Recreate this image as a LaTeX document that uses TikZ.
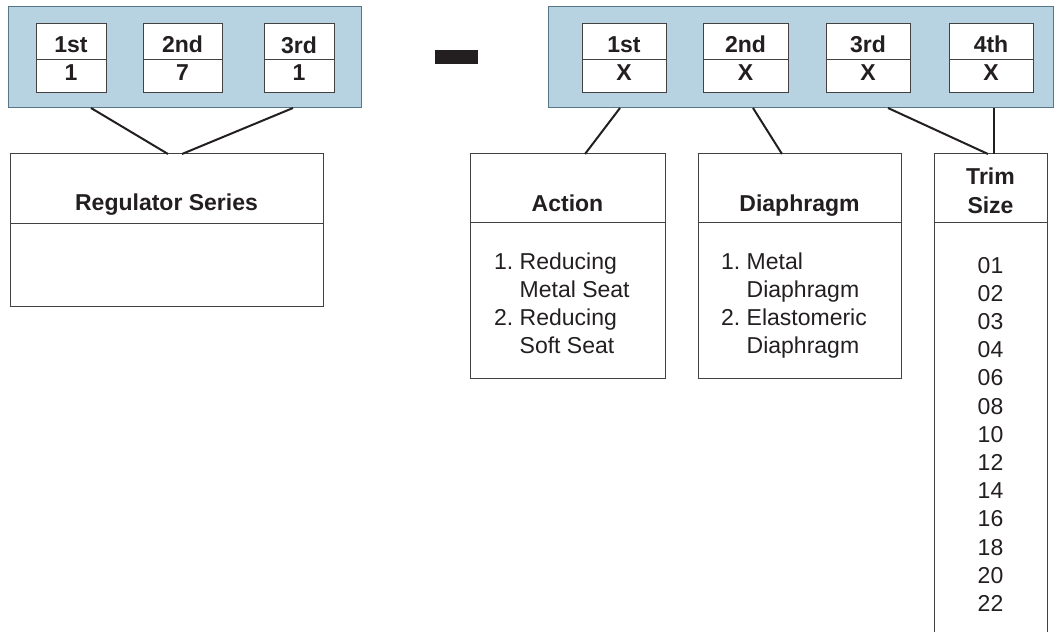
\documentclass[tikz,border=0pt]{standalone}
\usepackage{fontspec}
\setmainfont{Liberation Sans}
\definecolor{panelfill}{HTML}{B7D2E0}
\definecolor{panelline}{HTML}{557788}
\definecolor{ink}{HTML}{231F20}
\begin{document}
\begin{tikzpicture}[x=1pt,y=-1pt,
  every node/.style={inner sep=0pt, outer sep=0pt, text=ink, font=\fontsize{23}{28.3}\selectfont},
  panel/.style={draw=panelline, fill=panelfill, line width=1pt},
  cell/.style={draw=ink!85, fill=white, line width=0.9pt},
  box/.style={draw=ink!85, line width=1pt},
  conn/.style={draw=ink, line width=2pt},
  lbl/.style={anchor=base, font=\bfseries\fontsize{23}{28.3}\selectfont},
  lst/.style={anchor=base west}]
\useasboundingbox (0,0) rectangle (1056,631);
\clip (0,0) rectangle (1056,631);

% ---- left panel ----
\node[panel, minimum width=353, minimum height=101] (lp) at (184.5,57.5) {};
\node[cell, minimum width=70, minimum height=36] (l1t) at (71,41) {};
\node[cell, minimum width=70, minimum height=33] (l1b) at (71,75.5) {};
\node[cell, minimum width=79, minimum height=36] (l2t) at (182.5,41) {};
\node[cell, minimum width=79, minimum height=33] (l2b) at (182.5,75.5) {};
\node[cell, minimum width=70, minimum height=36] (l3t) at (299,41) {};
\node[cell, minimum width=70, minimum height=33] (l3b) at (299,75.5) {};
\node[lbl] (l1tt) at (71,53) {1st};
\node[lbl] (l1bt) at (71,81) {1};
\node[lbl] (l2tt) at (182.5,53) {2nd};
\node[lbl] (l2bt) at (182.5,81) {7};
\node[lbl] (l3tt) at (299,54) {3rd};
\node[lbl] (l3bt) at (299,81) {1};

% ---- minus ----
\node[fill=ink, minimum width=43, minimum height=14] (minus) at (456.5,57) {};

% ---- right panel ----
\node[panel, minimum width=505, minimum height=101] (rp) at (800.5,57.5) {};
\node[cell, minimum width=84, minimum height=36] (r1t) at (624,41) {};
\node[cell, minimum width=84, minimum height=33] (r1b) at (624,75.5) {};
\node[cell, minimum width=85, minimum height=36] (r2t) at (745.5,41) {};
\node[cell, minimum width=85, minimum height=33] (r2b) at (745.5,75.5) {};
\node[cell, minimum width=84, minimum height=36] (r3t) at (868,41) {};
\node[cell, minimum width=84, minimum height=33] (r3b) at (868,75.5) {};
\node[cell, minimum width=84, minimum height=36] (r4t) at (991,41) {};
\node[cell, minimum width=84, minimum height=33] (r4b) at (991,75.5) {};
\node[lbl] (r1tt) at (624,53) {1st};
\node[lbl] (r1bt) at (624,81) {X};
\node[lbl] (r2tt) at (745.5,53) {2nd};
\node[lbl] (r2bt) at (745.5,81) {X};
\node[lbl] (r3tt) at (868,53) {3rd};
\node[lbl] (r3bt) at (868,81) {X};
\node[lbl] (r4tt) at (991,53) {4th};
\node[lbl] (r4bt) at (991,81) {X};

% ---- regulator series ----
\node[box, minimum width=313, minimum height=69] (regh) at (166.5,188.5) {};
\node[box, minimum width=313, minimum height=83] (regb) at (166.5,264.5) {};
\node[lbl] (regt) at (166.5,210) {Regulator Series};

% ---- action ----
\node[box, minimum width=195, minimum height=68] (acth) at (567.5,188) {};
\node[box, minimum width=195, minimum height=156] (actb) at (567.5,300) {};
\node[lbl] (actt) at (567.5,211) {Action};
\node[lst] (actl) at (494,269) {\begin{tabular}[t]{@{}l@{\hspace{6.5pt}}l@{}}1. & Reducing\\ & Metal Seat\\ 2. & Reducing\\ & Soft Seat\end{tabular}};

% ---- diaphragm ----
\node[box, minimum width=203, minimum height=68] (diah) at (799.5,188) {};
\node[box, minimum width=203, minimum height=156] (diab) at (799.5,300) {};
\node[lbl] (diat) at (799.5,211) {Diaphragm};
\node[lst] (dial) at (721,269) {\begin{tabular}[t]{@{}l@{\hspace{6.5pt}}l@{}}1. & Metal\\ & Diaphragm\\ 2. & Elastomeric\\ & Diaphragm\end{tabular}};

% ---- trim size ----
\node[box, minimum width=113, minimum height=68] (trih) at (990.5,188) {};
\node[box, minimum width=113, minimum height=440] (trib) at (990.5,442) {};
\node[lbl] (trit) at (990.5,184) {\fontsize{23}{29}\selectfont\begin{tabular}[t]{@{}c@{}}Trim\\ Size\end{tabular}};
\node[anchor=base] (tril) at (990.5,273) {\fontsize{23}{28.2}\selectfont\begin{tabular}[t]{@{}c@{}}01\\02\\03\\04\\06\\08\\10\\12\\14\\16\\18\\20\\22\end{tabular}};

% ---- connectors ----
\draw[conn] (lp.south -| 91,0) -- (regh.north -| 168,0);
\draw[conn] (lp.south -| 293,0) -- (regh.north -| 182,0);
\draw[conn] (rp.south -| 620,0) -- (acth.north -| 585,0);
\draw[conn] (rp.south -| 753,0) -- (diah.north -| 782,0);
\draw[conn] (rp.south -| 888,0) -- (trih.north -| 988,0);
\draw[conn] (rp.south -| 994,0) -- (trih.north -| 994,0);
\end{tikzpicture}
\end{document}
